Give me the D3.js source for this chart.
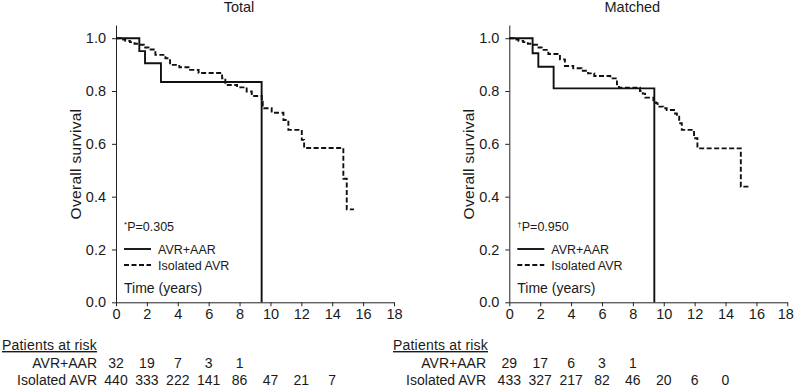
<!DOCTYPE html>
<html>
<head>
<meta charset="utf-8">
<script src="https://cdn.jsdelivr.net/npm/d3@7"></script>
<style>
  body { margin: 0; background: #fff; }
  svg { font-family: "Liberation Sans", Arial, Helvetica, sans-serif; fill: #1a1a1a; }
  .axis path, .axis line { stroke: #222; stroke-width: 1; }
  .axis text { font-size: 14.5px; fill: #1a1a1a; }
</style>
</head>
<body>
<svg id="chart" width="794" height="388"></svg>
<script>
// Kaplan-Meier curves: [time (years), survival]
let totalAvrAar = [[0, 1], [1.51, 0.951], [1.88, 0.905], [2.91, 0.834], [9.43, 0]];
let totalIsolated = [
  [0, 1], [0.3, 0.995], [0.6, 0.99], [0.9, 0.985], [1.2, 0.979], [1.47, 0.975],
  [1.8, 0.965], [2.1, 0.957], [2.55, 0.937], [3.2, 0.924], [3.5, 0.899],
  [4.1, 0.89], [4.8, 0.88], [5.35, 0.868], [6.87, 0.848], [7.08, 0.823],
  [7.84, 0.814], [8.46, 0.798], [8.79, 0.781], [9.44, 0.76], [9.5, 0.741],
  [9.6, 0.735], [10.08, 0.718], [10.84, 0.69], [11.16, 0.653], [12.03, 0.615],
  [12.18, 0.584], [14.72, 0.468], [14.94, 0.352], [15.41, 0.352]
];
let matchedAvrAar = [[0, 1], [1.51, 0.943], [1.88, 0.892], [2.87, 0.81], [9.39, 0]];
let matchedIsolated = [
  [0, 1], [0.3, 0.995], [0.6, 0.99], [0.9, 0.985], [1.2, 0.979], [1.45, 0.975],
  [1.8, 0.965], [2.1, 0.956], [2.53, 0.94], [3.28, 0.92], [3.6, 0.895],
  [4.14, 0.886], [4.68, 0.877], [5.1, 0.867], [5.5, 0.857], [6.54, 0.848],
  [6.97, 0.825], [7.1, 0.813], [8.46, 0.8], [8.64, 0.79], [8.79, 0.775],
  [9.33, 0.765], [9.5, 0.754], [9.6, 0.741], [9.97, 0.735], [10.19, 0.728],
  [10.73, 0.715], [10.85, 0.703], [11.0, 0.678], [11.17, 0.653], [11.96, 0.621],
  [12.18, 0.583], [14.99, 0.438], [15.48, 0.438]
];

// Numbers at risk, one per x tick (0, 2, 4 ...)
let riskTimes = [0, 2, 4, 6, 8, 10, 12, 14];
let totalRiskAvrAar = [32, 19, 7, 3, 1];
let totalRiskIsolated = [440, 333, 222, 141, 86, 47, 21, 7];
let matchedRiskAvrAar = [29, 17, 6, 3, 1];
let matchedRiskIsolated = [433, 327, 217, 82, 46, 20, 6, 0];

let xTicks = [0, 2, 4, 6, 8, 10, 12, 14, 16, 18];
let yTicks = [0, 0.2, 0.4, 0.6, 0.8, 1.0];
let seriesNames = ["AVR+AAR", "Isolated AVR"];

let svg = d3.select("#chart");

function drawPanel(p) {
  let g = svg.append("g");

  let xScale = d3.scaleLinear().domain([0, 18]).range([p.left, p.left + 278]);
  let yScale = d3.scaleLinear().domain([0, 1.05]).range([302.3, 25]);

  // Axes
  let xAxis = g.append("g")
    .attr("class", "axis")
    .attr("transform", "translate(0, 302.3)")
    .call(d3.axisBottom(xScale).tickValues(xTicks).tickSize(4).tickSizeOuter(0).tickPadding(2));

  // keep the last label inside the page
  xAxis.selectAll(".tick text")
    .filter(function(d) { return d === 18; })
    .attr("dx", p.lastLabelShift);

  g.append("g")
    .attr("class", "axis")
    .attr("transform", `translate(${p.left}, 0)`)
    .call(d3.axisLeft(yScale).tickValues(yTicks).tickSize(4).tickSizeOuter(0)
      .tickPadding(6).tickFormat(d3.format(".1f")));

  // Title and y label
  g.append("text")
    .attr("x", p.left + 123).attr("y", 12)
    .attr("text-anchor", "middle")
    .style("font-size", "14.5px")
    .text(p.title);

  g.append("text")
    .attr("transform", `translate(${p.left - 35}, 164) rotate(-90)`)
    .attr("text-anchor", "middle")
    .style("font-size", "15.5px")
    .style("letter-spacing", "0.3px")
    .text("Overall survival");

  // Survival curves
  let line = d3.line()
    .x(function(d) { return xScale(d[0]); })
    .y(function(d) { return yScale(d[1]); })
    .curve(d3.curveStepAfter);

  g.append("path")
    .datum(p.isolated)
    .attr("d", line)
    .attr("fill", "none")
    .attr("stroke", "#111")
    .attr("stroke-width", 1.9)
    .attr("stroke-dasharray", "5,2.5");

  g.append("path")
    .datum(p.avrAar)
    .attr("d", line)
    .attr("fill", "none")
    .attr("stroke", "#111")
    .attr("stroke-width", 1.9);

  // P value and legend
  let pText = g.append("text")
    .attr("x", p.left + 8).attr("y", 231)
    .style("font-size", "12.5px");
  pText.append("tspan").attr("dy", -4).style("font-size", "8px").text(p.mark);
  pText.append("tspan").attr("dy", 4).text(p.pValue);

  seriesNames.forEach(function(name, i) {
    let ly = 249 + i * 16;
    g.append("line")
      .attr("x1", p.left + 8).attr("x2", p.left + 35)
      .attr("y1", ly).attr("y2", ly)
      .attr("stroke", "#111")
      .attr("stroke-width", 1.9)
      .attr("stroke-dasharray", i === 0 ? null : "5,2.5");
    g.append("text")
      .attr("x", p.left + 42).attr("y", ly + 4.5)
      .style("font-size", "12.5px")
      .text(name);
  });

  g.append("text")
    .attr("x", p.left + 8).attr("y", 293)
    .style("font-size", "14px")
    .text("Time (years)");

  // Patients at risk table
  g.append("text")
    .attr("x", p.tableLeft).attr("y", 350)
    .style("font-size", "14px")
    .style("letter-spacing", "0.2px")
    .style("text-decoration", "underline")
    .text("Patients at risk");

  [p.riskAvrAar, p.riskIsolated].forEach(function(row, i) {
    let ry = 368 + i * 17;
    g.append("text")
      .attr("x", p.labelRight).attr("y", ry)
      .attr("text-anchor", "end")
      .style("font-size", "14px")
      .text(seriesNames[i]);
    g.selectAll(null)
      .data(row)
      .enter()
      .append("text")
      .attr("x", function(d, j) { return xScale(riskTimes[j]); })
      .attr("y", ry)
      .attr("text-anchor", "middle")
      .style("font-size", "14px")
      .text(function(d) { return d; });
  });
}

drawPanel({
  left: 116, title: "Total", mark: "*", pValue: "P=0.305",
  avrAar: totalAvrAar, isolated: totalIsolated,
  riskAvrAar: totalRiskAvrAar, riskIsolated: totalRiskIsolated,
  tableLeft: 2, labelRight: 97, lastLabelShift: 0
});

drawPanel({
  left: 509.3, title: "Matched", mark: "\u2020", pValue: "P=0.950",
  avrAar: matchedAvrAar, isolated: matchedIsolated,
  riskAvrAar: matchedRiskAvrAar, riskIsolated: matchedRiskIsolated,
  tableLeft: 393, labelRight: 486, lastLabelShift: -2
});
</script>
</body>
</html>
